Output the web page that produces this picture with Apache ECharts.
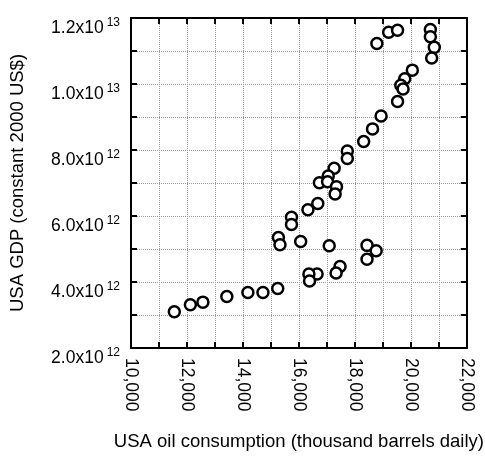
<!DOCTYPE html>
<html>
<head>
<meta charset="utf-8">
<script src="https://cdn.jsdelivr.net/npm/echarts@6/dist/echarts.min.js"></script>
<style>
html,body{margin:0;padding:0;background:#fff;}
#chart{width:485px;height:456px;}
</style>
</head>
<body>
<div id="chart"></div>
<script>
// Oil consumption (thousand barrels daily)
const oilConsumption = [18786, 19207, 19525, 20697, 20697, 20838, 20744, 20053, 19782, 19641, 19722, 19525, 18937, 18631, 18314, 17730, 17730, 17259, 17048, 16731, 17025, 17343, 17294, 16675, 16323, 15735, 15735, 15267, 15324, 16063, 17083, 18434, 18761, 18434, 17470, 17329, 16650, 16358, 16380, 15243, 14715, 14177, 13424, 12569, 12122, 11548];
// GDP in units of 1e12 constant 2000 US$
const gdpTrillions = [11.23, 11.57, 11.63, 11.65, 11.43, 11.11, 10.79, 10.42, 10.16, 9.96, 9.85, 9.47, 9.03, 8.64, 8.26, 7.97, 7.74, 7.45, 7.21, 7.01, 7.04, 6.89, 6.67, 6.38, 6.19, 5.96, 5.74, 5.35, 5.13, 5.23, 5.10, 5.11, 4.95, 4.69, 4.47, 4.27, 4.24, 4.24, 4.03, 3.80, 3.68, 3.68, 3.56, 3.39, 3.31, 3.10];

const xTickValues = [10000, 12000, 14000, 16000, 18000, 20000, 22000];
const xTickLabels = ['10,000', '12,000', '14,000', '16,000', '18,000', '20,000', '22,000'];
const yTickValues = [2e12, 4e12, 6e12, 8e12, 1e13, 1.2e13];
const yTickMantissa = ['2.0', '4.0', '6.0', '8.0', '1.0', '1.2'];
const yTickExponent = ['12', '12', '12', '12', '13', '13'];

const xTitle = 'USA oil consumption (thousand barrels daily)';
const yTitle = 'USA GDP (constant 2000 US$)';

const points = oilConsumption.map((x, i) => [x, gdpTrillions[i] * 1e12]);

const FONT = 'Liberation Sans, Arial, Helvetica, sans-serif';

const chart = echarts.init(document.getElementById('chart'), null, {renderer: 'canvas'});

const axisLineStyle = {show: true, lineStyle: {color: '#000', width: 2}};
const tickStyle = {show: true, inside: true, length: 6, lineStyle: {color: '#000', width: 2}};
const splitStyle = {show: true, lineStyle: {color: '#9a9a9a', width: 1, type: 'dotted'}};

const option = {
  animation: false,
  backgroundColor: '#fff',
  grid: {left: 127, right: 17, top: 18, bottom: 98, containLabel: false},
  xAxis: [{
    type: 'value', min: 10000, max: 22000, interval: 1000,
    position: 'bottom',
    name: xTitle, nameLocation: 'middle', nameGap: 84,
    nameTextStyle: {fontFamily: FONT, fontSize: 18.5, color: '#000'},
    axisLine: axisLineStyle, axisTick: tickStyle, splitLine: splitStyle,
    axisLabel: {
      rotate: -90, margin: 10, fontFamily: FONT, fontSize: 17.5, color: '#000',
      formatter: v => { const k = xTickValues.indexOf(v); return k >= 0 ? xTickLabels[k] : ''; }
    }
  }, {
    type: 'value', min: 10000, max: 22000, interval: 1000,
    position: 'top',
    axisLine: axisLineStyle, axisTick: tickStyle, splitLine: {show: false},
    axisLabel: {show: false}
  }],
  yAxis: [{
    type: 'value', min: 2e12, max: 1.2e13, interval: 1e12,
    position: 'left',
    name: yTitle, nameLocation: 'middle', nameGap: 104, nameRotate: 90,
    nameTextStyle: {fontFamily: FONT, fontSize: 18.5, color: '#000'},
    axisLine: axisLineStyle, axisTick: tickStyle, splitLine: splitStyle,
    axisLabel: {
      margin: 11, fontFamily: FONT, color: '#000',
      padding: [20, 0, 0, 0],
      formatter: v => {
        const k = yTickValues.findIndex(t => Math.abs(t - v) < 1e6);
        return k >= 0 ? '{a|' + yTickMantissa[k] + 'x10}{b|' + yTickExponent[k] + '}' : '';
      },
      rich: {
        a: {fontFamily: FONT, fontSize: 17.5, color: '#000', verticalAlign: 'middle'},
        b: {fontFamily: FONT, fontSize: 12, color: '#000', verticalAlign: 'middle', padding: [0, 0, 10, 3]}
      }
    }
  }, {
    type: 'value', min: 2e12, max: 1.2e13, interval: 1e12,
    position: 'right',
    axisLine: axisLineStyle, axisTick: tickStyle, splitLine: {show: false},
    axisLabel: {show: false}
  }],
  series: [{
    type: 'scatter',
    xAxisIndex: 0, yAxisIndex: 0,
    data: points,
    symbol: 'circle',
    symbolSize: 11,
    itemStyle: {color: '#fff', borderColor: '#000', borderWidth: 2.5, opacity: 1}
  }]
};
chart.setOption(option);
</script>
</body>
</html>
